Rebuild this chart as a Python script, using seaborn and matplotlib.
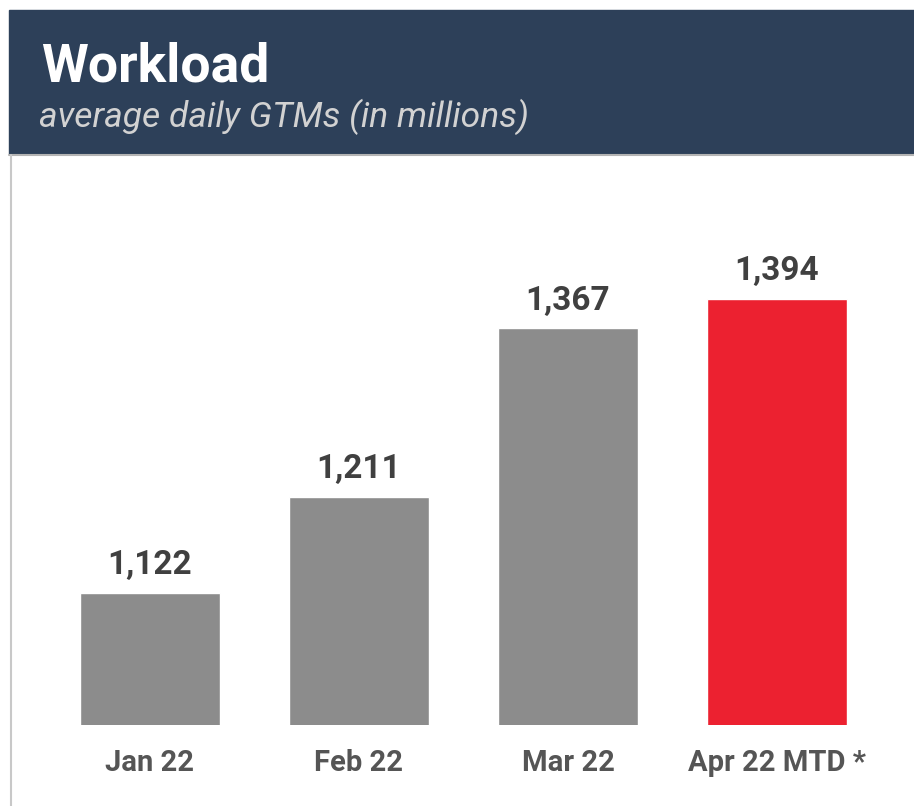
import pandas as pd
import matplotlib.pyplot as plt
import seaborn as sns
from matplotlib.patches import Rectangle
from matplotlib.lines import Line2D

# chart data
months = ["Jan 22", "Feb 22", "Mar 22", "Apr 22 MTD *"]
gtms = [1122, 1211, 1367, 1394]
bar_colors = ["#8c8c8c", "#8c8c8c", "#8c8c8c", "#ec2130"]

df = pd.DataFrame({"month": months, "gtms": gtms})

sns.set_style("white")
plt.rcParams["font.family"] = ["Roboto", "DejaVu Sans"]

W, H = 914, 806
fig = plt.figure(figsize=(W / 100, H / 100), dpi=100)

# header band
fig.patches.append(Rectangle((9 / W, 1 - 154 / H), 1 - 9 / W, 144 / H,
                             transform=fig.transFigure, color="#2d4059", zorder=0))
fig.lines.append(Line2D([9 / W, 1], [1 - 155 / H, 1 - 155 / H], transform=fig.transFigure,
                        color="#b4b4b4", lw=1.5))
fig.lines.append(Line2D([10.5 / W, 10.5 / W], [0, 1 - 155 / H], transform=fig.transFigure,
                        color="#c8c8c8", lw=1.5))
fig.text(41 / W, 1 - 82 / H, "Workload", color="white", fontsize=38.5,
         fontweight="bold", va="baseline", ha="left")
fig.text(39 / W, 1 - 127 / H, "average daily GTMs (in millions)", color="#d2d2d2",
         fontsize=25.5, style="italic", va="baseline", ha="left")

# main plot area
ax = fig.add_axes([12 / W, 81 / H, (W - 12) / W, 570 / H])
sns.barplot(data=df, x="month", y="gtms", hue="month", palette=bar_colors,
            width=0.67, legend=False, saturation=1, ax=ax)
ax.set_ylim(1000, 1000 + 570 / 1.081)
ax.set_xlim(-0.660, -0.660 + 902 / 209)

for i, v in enumerate(gtms):
    ax.annotate(f"{v:,}", (i, v), xytext=(0, 13.5), textcoords="offset points",
                ha="center", va="baseline", fontsize=24, fontweight="bold",
                color="#404040")

ax.set_xlabel("")
ax.set_ylabel("")
ax.set_yticks([])
ax.tick_params(axis="x", length=0, pad=17)
for lbl in ax.get_xticklabels():
    lbl.set_fontsize(21)
    lbl.set_fontweight("bold")
    lbl.set_color("#555555")
sns.despine(ax=ax, left=True, bottom=True)
ax.patch.set_alpha(0)

fig.savefig("out.png", dpi=100)
